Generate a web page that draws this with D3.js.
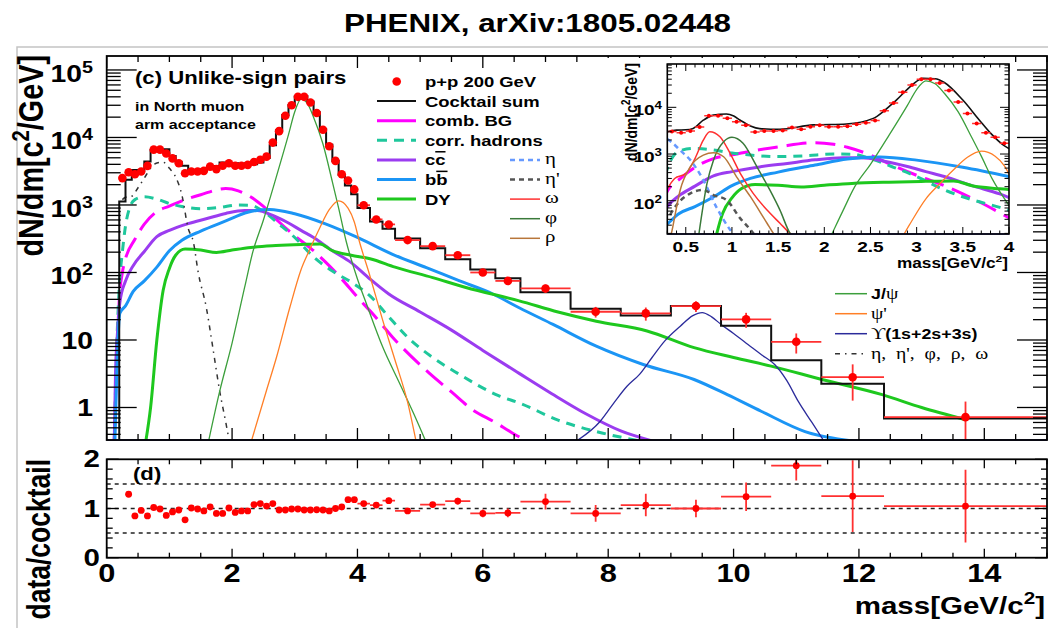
<!DOCTYPE html>
<html>
<head>
<meta charset="utf-8">
<script src="https://cdn.jsdelivr.net/npm/d3@7"></script>
<style>
  body { margin: 0; background: #fff; overflow: hidden; }
  text { font-family: "Liberation Sans", Arial, Helvetica, sans-serif; font-weight: bold; fill: #000; white-space: pre; }
  .greek { font-family: "Liberation Serif", "DejaVu Serif", serif; font-weight: normal; }
</style>
</head>
<body>
<svg id="chart" width="1048" height="628"></svg>
<script>
// ---------------- data ----------------
// p+p 200 GeV unlike-sign data points (mass in GeV/c2, dN/dm)
const dataMass = [0.25, 0.35, 0.45, 0.55, 0.65, 0.75, 0.85, 0.95, 1.05, 1.15,
  1.25, 1.35, 1.45, 1.55, 1.65, 1.75, 1.85, 1.95, 2.05, 2.15,
  2.25, 2.35, 2.45, 2.55, 2.65, 2.75, 2.85, 2.95, 3.05, 3.15,
  3.25, 3.35, 3.45, 3.55, 3.65, 3.75, 3.85, 3.95,
  4.1, 4.3, 4.5, 4.8, 5.2, 5.6, 6.0, 6.4, 7.0, 7.8, 8.6, 9.4, 10.2, 11.0, 11.9, 13.7];
const dataYield = [2500, 3050, 2850, 3130, 3800, 6600, 6600, 5800, 4900, 4150,
  2950, 3130, 3130, 3200, 3700, 3400, 3820, 4150, 3820, 3820,
  3930, 4330, 4680, 5200, 8400, 12400, 21000, 30000, 40000, 40000,
  33000, 23000, 13000, 7400, 4500, 2850, 2300, 1700,
  990, 610, 515, 302, 246, 180, 100, 75, 58, 26.2, 24.8, 31.8, 20.2, 9.4, 2.81, 0.72];
const dataHalfWidth = [0.05, 0.05, 0.05, 0.05, 0.05, 0.05, 0.05, 0.05, 0.05, 0.05,
  0.05, 0.05, 0.05, 0.05, 0.05, 0.05, 0.05, 0.05, 0.05, 0.05,
  0.05, 0.05, 0.05, 0.05, 0.05, 0.05, 0.05, 0.05, 0.05, 0.05,
  0.05, 0.05, 0.05, 0.05, 0.05, 0.05, 0.05, 0.05,
  0.1, 0.1, 0.1, 0.2, 0.2, 0.2, 0.2, 0.2, 0.4, 0.4, 0.4, 0.4, 0.4, 0.4, 0.5, 1.3];
const dataRelErr = [0.02, 0.02, 0.02, 0.02, 0.02, 0.02, 0.02, 0.02, 0.02, 0.02,
  0.02, 0.02, 0.02, 0.02, 0.02, 0.02, 0.02, 0.02, 0.02, 0.02,
  0.02, 0.02, 0.02, 0.02, 0.02, 0.02, 0.02, 0.02, 0.02, 0.02,
  0.02, 0.02, 0.02, 0.02, 0.02, 0.02, 0.02, 0.02,
  0.04, 0.04, 0.06, 0.05, 0.06, 0.07, 0.09, 0.1, 0.14, 0.18, 0.22, 0.18, 0.25, 0.33, 0.55, 0.7];

// cocktail sum histogram
const cocktailEdges = [0.2, 0.3, 0.4, 0.5, 0.6, 0.7, 0.8, 0.9, 1.0, 1.1, 1.2, 1.3, 1.4, 1.5, 1.6, 1.7, 1.8, 1.9,
  2.0, 2.1, 2.2, 2.3, 2.4, 2.5, 2.6, 2.7, 2.8, 2.9, 3.0, 3.1, 3.2, 3.3, 3.4, 3.5, 3.6, 3.7, 3.8, 3.9, 4.0,
  4.2, 4.4, 4.6, 5.0, 5.4, 5.8, 6.2, 6.6, 7.4, 8.2, 9.0, 9.8, 10.6, 11.4, 12.4, 15.0];
const cocktailSum = [1130, 2360, 3300, 3250, 4400, 6500, 6700, 6700, 5300, 4300,
  3800, 3100, 3150, 3370, 3590, 3780, 4240, 4110, 4150, 4020,
  4140, 4010, 4250, 4950, 7640, 12800, 21600, 30300, 40400, 41200,
  34000, 23600, 13400, 7800, 4500, 2770, 1950, 1440,
  900, 570, 445, 318, 228, 157, 111, 82, 51, 29, 23, 32, 16.3, 5.0, 2.25, 0.69];

// cocktail components [mass, dN/dm]
const combBG = [[0.12, 0.3], [0.16, 5], [0.2, 40], [0.25, 100], [0.3, 160], [0.45, 310], [0.6, 520], [0.8, 800],
  [1.0, 960], [1.2, 1150], [1.5, 1420], [1.9, 1750], [2.1, 1620], [2.25, 1400], [2.5, 950], [2.75, 560],
  [3.0, 350], [3.25, 230], [3.5, 140], [3.75, 80], [4.0, 43], [4.25, 24], [4.56, 11], [5.15, 3.2],
  [5.5, 1.7], [5.84, 0.92], [6.2, 0.6], [6.47, 0.42], [6.7, 0.32]];
const corrHadrons = [[0.12, 0.3], [0.16, 8], [0.2, 60], [0.25, 200], [0.3, 490], [0.36, 875], [0.45, 1200],
  [0.6, 1320], [0.8, 1220], [1.0, 1050], [1.2, 950], [1.5, 880], [1.8, 920], [2.1, 1000], [2.3, 990],
  [2.5, 800], [2.75, 520], [3.0, 330], [3.3, 170], [3.6, 105], [3.9, 72], [4.2, 45], [4.5, 22], [4.8, 11],
  [5.2, 5.5], [5.6, 3.2], [6.25, 1.5], [6.6, 1.15], [7.2, 0.65], [7.9, 0.42], [8.5, 0.32]];
const charm = [[0.12, 0.3], [0.14, 3], [0.17, 12], [0.21, 36], [0.3, 75], [0.42, 125], [0.6, 205], [0.8, 340],
  [1.0, 420], [1.3, 530], [1.6, 630], [1.9, 750], [2.2, 830], [2.4, 830], [2.65, 700], [2.9, 540],
  [3.1, 420], [3.3, 330], [3.6, 210], [3.9, 140], [4.2, 80], [4.5, 48], [5.0, 26], [5.5, 14], [6.0, 7],
  [6.58, 3.2], [7.1, 1.6], [7.65, 0.8], [8.2, 0.45], [8.7, 0.32]];
const bottom = [[0.13, 0.3], [0.16, 3], [0.18, 10], [0.21, 25], [0.3, 32], [0.42, 52], [0.6, 75], [0.8, 120],
  [1.0, 210], [1.2, 300], [1.5, 410], [1.9, 580], [2.25, 780], [2.6, 860], [3.0, 740], [3.5, 520],
  [4.0, 330], [4.56, 186], [5.1, 118], [5.63, 75], [6.16, 48], [6.58, 30], [7.12, 17], [7.81, 8.1],
  [8.57, 4.3], [9.37, 2.6], [9.9, 1.55], [10.44, 0.88], [11.14, 0.44], [11.9, 0.32]];
const drellYan = [[0.62, 0.3], [0.7, 1], [0.8, 10], [0.9, 54], [1.0, 115], [1.1, 180], [1.25, 222], [1.5, 215],
  [1.75, 198], [2.0, 215], [2.3, 235], [2.7, 250], [3.1, 260], [3.4, 265], [3.6, 210], [3.9, 180],
  [4.2, 160], [4.6, 120], [5.2, 84], [5.73, 60], [6.58, 38], [7.2, 26], [7.81, 19], [8.62, 13.6],
  [9.37, 7.7], [10.0, 5.5], [10.6, 4.1], [11.41, 2.6], [12.37, 1.55], [13.0, 1.0], [13.7, 0.66]];
const jpsi = [[1.62, 0.3], [1.8, 1.7], [2.0, 9], [2.2, 60], [2.33, 200], [2.5, 600], [2.7, 2500], [2.9, 11000],
  [3.0, 24000], [3.1, 37000], [3.2, 32000], [3.3, 20000], [3.45, 8000], [3.6, 2200], [3.7, 900],
  [3.82, 290], [4.0, 80], [4.14, 35], [4.4, 8], [4.67, 2.3], [4.9, 0.8], [5.1, 0.3]];
const psiPrime = [[2.3, 0.3], [2.55, 1.8], [2.71, 5.6], [2.92, 30], [3.1, 110], [3.24, 220], [3.4, 460],
  [3.55, 850], [3.7, 1150], [3.85, 900], [3.95, 560], [4.03, 290], [4.19, 95], [4.4, 20], [4.6, 5],
  [4.8, 1.2], [4.94, 0.3]];
const upsilon = [[7.45, 0.3], [7.87, 0.62], [8.1, 1.2], [8.3, 2.06], [8.5, 3.1], [8.7, 5.5], [8.9, 9.6],
  [9.15, 16], [9.35, 23], [9.5, 25.5], [9.65, 22], [9.8, 17], [10.0, 12.5], [10.23, 8.6], [10.45, 6],
  [10.66, 4.3], [10.85, 2.5], [11.03, 1.24], [11.25, 0.6], [11.46, 0.3]];
const lightMesons = [[0.25, 1200], [0.3, 1300], [0.4, 1350], [0.5, 1800], [0.6, 2500], [0.7, 3500],
  [0.8, 4200], [0.9, 4300], [1.0, 3500], [1.1, 2600], [1.2, 1400], [1.3, 450], [1.38, 290], [1.46, 100],
  [1.59, 30], [1.7, 7], [1.8, 1.8], [1.9, 0.6], [1.96, 0.3]];

// inset only: individual light mesons and smooth cocktail sum
const etaCurve = [[0.3, 2100], [0.36, 1700], [0.44, 1200], [0.55, 740], [0.69, 277], [0.83, 74], [0.98, 24], [1.03, 18]];
const etaPrimeCurve = [[0.33, 50], [0.4, 81], [0.55, 144], [0.69, 170], [0.8, 132], [0.94, 104], [1.09, 42], [1.2, 24], [1.25, 18]];
const omegaCurve = [[0.3, 180], [0.38, 300], [0.5, 380], [0.6, 800], [0.69, 1990], [0.76, 3000], [0.87, 2350],
  [0.98, 1035], [1.09, 385], [1.23, 144], [1.38, 63], [1.52, 33], [1.63, 20], [1.66, 18]];
const phiCurve = [[0.64, 18], [0.73, 235], [0.8, 740], [0.91, 1830], [1.0, 2280], [1.12, 1700], [1.27, 535],
  [1.41, 170], [1.52, 63], [1.63, 20], [1.66, 17]];
const rhoCurve = [[0.34, 18], [0.36, 28], [0.44, 170], [0.55, 535], [0.69, 950], [0.8, 1070], [0.91, 875],
  [1.05, 325], [1.2, 122], [1.38, 33], [1.45, 20], [1.47, 18]];
const insetSum = [[0.3, 3000], [0.4, 3250], [0.5, 3300], [0.58, 3540], [0.69, 5300], [0.8, 6800], [0.94, 7200],
  [1.02, 6500], [1.09, 5300], [1.2, 4000], [1.3, 3500], [1.52, 3380], [1.88, 4200], [2.24, 4400],
  [2.53, 5800], [2.65, 8500], [2.78, 14300], [2.95, 30000], [3.07, 42000], [3.2, 41000], [3.3, 34000],
  [3.5, 14300], [3.68, 5300], [3.8, 2800], [3.94, 1550], [4.0, 1300]];

// data / cocktail ratio
const ratioMass = [0.35, 0.45, 0.55, 0.65, 0.75, 0.85, 0.95, 1.05, 1.15, 1.25,
  1.35, 1.45, 1.55, 1.65, 1.75, 1.85, 1.95, 2.05, 2.15, 2.25,
  2.35, 2.45, 2.55, 2.65, 2.75, 2.85, 2.95, 3.05, 3.15, 3.25,
  3.35, 3.45, 3.55, 3.65, 3.75, 3.85, 3.95,
  4.1, 4.3, 4.5, 4.8, 5.2, 5.6, 6.0, 6.4, 7.0, 7.8, 8.6, 9.4, 10.2, 11.0, 11.9, 13.7];
const ratioValue = [1.29, 0.85, 0.96, 0.85, 1.02, 0.99, 0.86, 0.93, 0.97, 0.77,
  1.01, 0.99, 0.95, 1.03, 0.90, 0.90, 1.01, 0.92, 0.95, 0.95,
  1.08, 1.10, 1.05, 1.10, 0.97, 0.97, 0.99, 0.99, 0.97, 0.97,
  0.975, 0.97, 0.95, 1.00, 1.03, 1.18, 1.18,
  1.10, 1.07, 1.16, 0.95, 1.08, 1.15, 0.90, 0.91, 1.14, 0.90, 1.07, 1.00, 1.24, 1.87, 1.25, 1.05];
const ratioErr = [0.02, 0.02, 0.02, 0.02, 0.02, 0.02, 0.02, 0.02, 0.02, 0.02,
  0.02, 0.02, 0.02, 0.02, 0.02, 0.02, 0.02, 0.02, 0.02, 0.02,
  0.02, 0.02, 0.02, 0.02, 0.02, 0.02, 0.02, 0.02, 0.02, 0.02,
  0.02, 0.02, 0.02, 0.02, 0.02, 0.03, 0.03,
  0.04, 0.04, 0.06, 0.04, 0.05, 0.07, 0.08, 0.09, 0.16, 0.17, 0.23, 0.18, 0.29, 0.30, 0.73, 0.74];
const ratioHalfWidth = [0.05, 0.05, 0.05, 0.05, 0.05, 0.05, 0.05, 0.05, 0.05, 0.05,
  0.05, 0.05, 0.05, 0.05, 0.05, 0.05, 0.05, 0.05, 0.05, 0.05,
  0.05, 0.05, 0.05, 0.05, 0.05, 0.05, 0.05, 0.05, 0.05, 0.05,
  0.05, 0.05, 0.05, 0.05, 0.05, 0.05, 0.05,
  0.1, 0.1, 0.1, 0.2, 0.2, 0.2, 0.2, 0.2, 0.4, 0.4, 0.4, 0.4, 0.4, 0.4, 0.5, 1.3];
const ratioRefLines = [0.5, 1, 1.5];

// ---------------- drawing ----------------
const SX = 1.23; // the figure text is horizontally stretched
const svg = d3.select("#chart");
const defs = svg.append("defs");

function clip(id, x0, y0, x1, y1) {
  defs.append("clipPath").attr("id", id).append("rect")
    .attr("x", x0).attr("y", y0).attr("width", x1 - x0).attr("height", y1 - y0);
  return "url(#" + id + ")";
}

// text with optional superscripts / greek parts
function rich(g, x, y, parts, o = {}) {
  const size = o.size || 15;
  const t = g.append("text")
    .attr("transform", "translate(" + x + "," + y + ") scale(" + SX + ",1)" + (o.rotate ? " rotate(-90)" : ""))
    .attr("text-anchor", o.anchor || "start")
    .style("font-size", size + "px");
  if (o.serif) t.attr("class", "greek");
  let shift = 0;
  parts.forEach((p) => {
    if (typeof p === "string") p = { t: p };
    const want = p.sup ? -0.4 * size : 0;
    const s = t.append("tspan").text(p.t).attr("dy", want - shift);
    shift = want;
    if (p.sup) s.style("font-size", 0.7 * size + "px");
    if (p.serif) s.attr("class", "greek").style("font-size", (p.size || size * 1.1) + "px");
    if (p.over) s.style("text-decoration", "overline");
  });
  return t;
}

function ticks(g, vals, pos, fixed, len, side, width) {
  g.append("g").selectAll("line").data(vals).join("line")
    .attr("x1", (d) => (side === "b" || side === "t" ? pos(d) : fixed))
    .attr("x2", (d) => (side === "b" || side === "t" ? pos(d) : side === "l" ? fixed + len(d) : fixed - len(d)))
    .attr("y1", (d) => (side === "b" || side === "t" ? fixed : pos(d)))
    .attr("y2", (d) => (side === "b" ? fixed - len(d) : side === "t" ? fixed + len(d) : pos(d)))
    .attr("stroke", "#000")
    .attr("stroke-width", width || 1.3);
}

const isDecade = (v) => Math.abs(Math.log10(v) - Math.round(Math.log10(v))) < 1e-6;

// title and outer canvas frame
rich(svg, 537.5, 31.7, ["PHENIX, arXiv:1805.02448"], { size: 25.5, anchor: "middle" });
svg.append("rect").attr("x", 17).attr("y", 47).attr("width", 1100).attr("height", 700)
  .attr("fill", "none").attr("stroke", "#c4c4c4").attr("stroke-width", 1.5);

// ---------- main panel ----------
const x = d3.scaleLinear().domain([0, 15]).range([106.7, 1047]);
const y = d3.scaleLog().domain([0.33, 1.61e5]).range([440, 56]);
const main = svg.append("g");
const plotArea = main.append("g").attr("clip-path", clip("cMain", 106.7, 56, 1047, 440));
const lineMain = d3.line().x((d) => x(d[0])).y((d) => y(d[1])).curve(d3.curveMonotoneX);

const mainCurves = [
  { pts: combBG, color: "#ff00ff", width: 3, dash: "22,9" },
  { pts: corrHadrons, color: "#1fc79c", width: 3, dash: "9,7" },
  { pts: charm, color: "#9b3cf0", width: 3 },
  { pts: bottom, color: "#1b95f5", width: 3 },
  { pts: drellYan, color: "#1ec81e", width: 3 },
  { pts: lightMesons, color: "#333", width: 1.5, dash: "5,5,1.5,5" },
  { pts: jpsi, color: "#3c9f3c", width: 1.3 },
  { pts: psiPrime, color: "#ff7f27", width: 1.3 },
  { pts: upsilon, color: "#2b2b9b", width: 1.3 }
];
mainCurves.forEach((c) => {
  plotArea.append("path").attr("d", lineMain(c.pts)).attr("fill", "none")
    .attr("stroke", c.color).attr("stroke-width", c.width).attr("stroke-dasharray", c.dash || null);
});

// cocktail sum as histogram
let hist = "M" + x(cocktailEdges[0]) + "," + y.range()[0];
cocktailSum.forEach((v, i) => {
  hist += "V" + y(v) + "H" + x(cocktailEdges[i + 1]);
});
plotArea.append("path").attr("d", hist).attr("fill", "none").attr("stroke", "#111").attr("stroke-width", 2);

// data with errors
const dataPts = dataMass.map((m, i) => ({ m, v: dataYield[i], hw: dataHalfWidth[i], e: dataRelErr[i] }));
plotArea.append("g").selectAll("line").data(dataPts).join("line")
  .attr("x1", (d) => x(d.m - d.hw)).attr("x2", (d) => x(d.m + d.hw))
  .attr("y1", (d) => y(d.v)).attr("y2", (d) => y(d.v))
  .attr("stroke", "#ff3030").attr("stroke-width", 1.8);
plotArea.append("g").selectAll("line").data(dataPts).join("line")
  .attr("x1", (d) => x(d.m)).attr("x2", (d) => x(d.m))
  .attr("y1", (d) => y(Math.max(d.v * (1 - d.e), 0.2))).attr("y2", (d) => y(d.v * (1 + d.e)))
  .attr("stroke", "#ff3030").attr("stroke-width", 1.8);
plotArea.append("g").selectAll("circle").data(dataPts).join("circle")
  .attr("cx", (d) => x(d.m)).attr("cy", (d) => y(d.v)).attr("r", 4.3).attr("fill", "#ff0000");

// bottom baseline (curves sitting at the floor)
main.append("line").attr("x1", x(0)).attr("x2", x(15)).attr("y1", y.range()[0]).attr("y2", y.range()[0])
  .attr("stroke", "#2b2b9b").attr("stroke-width", 1.5);

// frame and ticks
main.append("rect").attr("x", 106.7).attr("y", 56).attr("width", 1047 - 106.7).attr("height", 384)
  .attr("fill", "none").attr("stroke", "#000").attr("stroke-width", 1.8);
const yTickVals = y.ticks();
ticks(main, yTickVals, y, 106.7, (d) => (isDecade(d) ? 30 : 14), "l");
ticks(main, yTickVals, y, 1047, (d) => (isDecade(d) ? 30 : 14), "r");
const xTickVals = x.ticks(30);
ticks(main, xTickVals, x, 440, (d) => (d % 2 === 0 ? 12 : 6), "b");
ticks(main, xTickVals, x, 56, (d) => (d % 2 === 0 ? 12 : 6), "t");

yTickVals.filter(isDecade).forEach((v) => {
  const e = Math.round(Math.log10(v));
  if (e < 2) rich(main, 93, y(v) + 9, [String(v)], { size: 23, anchor: "end" });
  else rich(main, 93, y(v) + 12, ["10", { t: String(e), sup: true }], { size: 23, anchor: "end" });
});
rich(main, 43, 55, ["dN/dm[c", { t: "2", sup: true }, "/GeV]"], { size: 28.8, anchor: "end", rotate: true });

// text and legend
rich(main, 135, 84, ["(c) Unlike-sign pairs"], { size: 18 });
rich(main, 135, 111, ["in North muon"], { size: 13 });
rich(main, 135, 128.5, ["arm acceptance"], { size: 13 });

const legRow = (i) => 81.5 + i * 19.6;
main.append("circle").attr("cx", 396.7).attr("cy", legRow(0)).attr("r", 4.3).attr("fill", "#ff0000");
const legendLeft = [
  { label: ["p+p 200 GeV"] },
  { label: ["Cocktail sum"], color: "#111", width: 2 },
  { label: ["comb. BG"], color: "#ff00ff", width: 3 },
  { label: ["corr. hadrons"], color: "#1fc79c", width: 3, dash: "10,7" },
  { label: ["c", { t: "c", over: true }], color: "#9b3cf0", width: 3 },
  { label: ["b", { t: "b", over: true }], color: "#1b95f5", width: 3 },
  { label: ["DY"], color: "#1ec81e", width: 3 }
];
legendLeft.forEach((d, i) => {
  if (d.color) {
    main.append("line").attr("x1", 377).attr("x2", 416).attr("y1", legRow(i)).attr("y2", legRow(i))
      .attr("stroke", d.color).attr("stroke-width", d.width).attr("stroke-dasharray", d.dash || null);
  }
  rich(main, 425, legRow(i) + 5.4, d.label, { size: 15 });
});
const legendGreek = [
  { label: "η", color: "#6699ff", width: 2.5, dash: "5,4" },
  { label: "η'", color: "#555", width: 2.5, dash: "5,4" },
  { label: "ω", color: "#ff3030", width: 1.5 },
  { label: "φ", color: "#3a7a3a", width: 1.5 },
  { label: "ρ", color: "#b8763a", width: 1.5 }
];
legendGreek.forEach((d, k) => {
  const ry = legRow(4 + k);
  main.append("line").attr("x1", 510).attr("x2", 540).attr("y1", ry).attr("y2", ry)
    .attr("stroke", d.color).attr("stroke-width", d.width).attr("stroke-dasharray", d.dash || null);
  rich(main, 545, ry + 4, [d.label], { size: 17, serif: true });
});

const legendRight = [
  { label: ["J/", { t: "ψ", serif: true, size: 16 }], color: "#3c9f3c", width: 1.5 },
  { label: [{ t: "ψ'", serif: true, size: 16 }], color: "#ff7f27", width: 1.5 },
  { label: [{ t: "ϒ", serif: true, size: 16 }, "(1s+2s+3s)"], color: "#2b2b9b", width: 1.5 },
  { label: [{ t: "η,  η',  φ,  ρ,  ω", serif: true, size: 16 }], color: "#333", width: 1.5, dash: "5,5,1.5,5" }
];
legendRight.forEach((d, k) => {
  const ry = 293.7 + k * 20;
  main.append("line").attr("x1", 835).attr("x2", 867).attr("y1", ry).attr("y2", ry)
    .attr("stroke", d.color).attr("stroke-width", d.width).attr("stroke-dasharray", d.dash || null);
  rich(main, 871, ry + 5.2, d.label, { size: 14.5 });
});

// ---------- ratio panel ----------
const yr = d3.scaleLinear().domain([0, 2]).range([557.7, 459.3]);
const ratio = svg.append("g");
const ratioArea = ratio.append("g").attr("clip-path", clip("cRatio", 106.7, 459.3, 1047, 557.7));
ratioArea.selectAll("line.ref").data(ratioRefLines).join("line")
  .attr("x1", x(0)).attr("x2", x(15)).attr("y1", (d) => yr(d)).attr("y2", (d) => yr(d))
  .attr("stroke", "#222").attr("stroke-width", 1.5).attr("stroke-dasharray", "4,4");
const ratioPts = ratioMass.map((m, i) => ({ m, v: ratioValue[i], e: ratioErr[i], hw: ratioHalfWidth[i] }));
ratioArea.append("g").selectAll("line").data(ratioPts).join("line")
  .attr("x1", (d) => x(d.m - d.hw)).attr("x2", (d) => x(d.m + d.hw))
  .attr("y1", (d) => yr(d.v)).attr("y2", (d) => yr(d.v))
  .attr("stroke", "#ff3030").attr("stroke-width", 1.8);
ratioArea.append("g").selectAll("line").data(ratioPts).join("line")
  .attr("x1", (d) => x(d.m)).attr("x2", (d) => x(d.m))
  .attr("y1", (d) => yr(d.v - d.e)).attr("y2", (d) => yr(d.v + d.e))
  .attr("stroke", "#ff3030").attr("stroke-width", 1.8);
ratioArea.append("g").selectAll("circle").data(ratioPts).join("circle")
  .attr("cx", (d) => x(d.m)).attr("cy", (d) => yr(d.v)).attr("r", 3.4).attr("fill", "#ff0000");

ratio.append("rect").attr("x", 106.7).attr("y", 459.3).attr("width", 1047 - 106.7).attr("height", 557.7 - 459.3)
  .attr("fill", "none").attr("stroke", "#000").attr("stroke-width", 1.8);
const yrTicks = yr.ticks(10);
ticks(ratio, yrTicks, yr, 106.7, (d) => (Number.isInteger(d) ? 12 : 6), "l");
ticks(ratio, yrTicks, yr, 1047, (d) => (Number.isInteger(d) ? 12 : 6), "r");
ticks(ratio, xTickVals, x, 557.7, (d) => (d % 2 === 0 ? 9 : 5), "b");
ticks(ratio, xTickVals, x, 459.3, (d) => (d % 2 === 0 ? 9 : 5), "t");
yr.ticks(2).forEach((v) => rich(ratio, 100, yr(v) + 8, [String(v)], { size: 24, anchor: "end" }));
x.ticks(8).forEach((v) => rich(ratio, x(v), 582, [String(v)], { size: 25, anchor: "middle" }));
rich(ratio, 133, 480, ["(d)"], { size: 18 });
rich(ratio, 50, 459, ["data/cocktail"], { size: 26.5, anchor: "end", rotate: true });
rich(ratio, 1045, 614, ["mass[GeV/c", { t: "2", sup: true }, "]"], { size: 24, anchor: "end" });

// ---------- inset ----------
const xi = d3.scaleLinear().domain([0.3, 4]).range([667.3, 1009]);
const yi = d3.scaleLog().domain([19.4, 84600]).range([234, 64]);
const inset = svg.append("g");
inset.append("rect").attr("x", 600).attr("y", 58).attr("width", 414).attr("height", 214).attr("fill", "#fff");
const insetArea = inset.append("g").attr("clip-path", clip("cInset", 667.3, 64, 1009, 234));
const lineInset = d3.line().x((d) => xi(d[0])).y((d) => yi(d[1])).curve(d3.curveMonotoneX);
const insetCurves = [
  { pts: combBG, color: "#ff00ff", width: 3, dash: "20,9" },
  { pts: corrHadrons, color: "#1fc79c", width: 3, dash: "9,7" },
  { pts: charm, color: "#9b3cf0", width: 3 },
  { pts: bottom, color: "#1b95f5", width: 3 },
  { pts: drellYan, color: "#1ec81e", width: 3 },
  { pts: etaCurve, color: "#6699ff", width: 2.5, dash: "5,4" },
  { pts: etaPrimeCurve, color: "#555", width: 2.5, dash: "5,4" },
  { pts: omegaCurve, color: "#ff3030", width: 1.5 },
  { pts: phiCurve, color: "#3a7a3a", width: 1.5 },
  { pts: rhoCurve, color: "#b8763a", width: 1.5 },
  { pts: jpsi, color: "#3c9f3c", width: 1.3 },
  { pts: psiPrime, color: "#ff7f27", width: 1.3 },
  { pts: insetSum, color: "#111", width: 1.6 }
];
insetCurves.forEach((c) => {
  insetArea.append("path").attr("d", lineInset(c.pts)).attr("fill", "none")
    .attr("stroke", c.color).attr("stroke-width", c.width).attr("stroke-dasharray", c.dash || null);
});
const insetPts = dataPts.filter((d) => d.m > 0.3 && d.m < 4);
insetArea.append("g").selectAll("line").data(insetPts).join("line")
  .attr("x1", (d) => xi(d.m - d.hw)).attr("x2", (d) => xi(d.m + d.hw))
  .attr("y1", (d) => yi(d.v)).attr("y2", (d) => yi(d.v))
  .attr("stroke", "#ff3030").attr("stroke-width", 1.5);
insetArea.append("g").selectAll("circle").data(insetPts).join("circle")
  .attr("cx", (d) => xi(d.m)).attr("cy", (d) => yi(d.v)).attr("r", 2).attr("fill", "#ff0000");
inset.append("line").attr("x1", 667.3).attr("x2", 1009).attr("y1", 234).attr("y2", 234)
  .attr("stroke", "#2b2b9b").attr("stroke-width", 1.5);
inset.append("rect").attr("x", 667.3).attr("y", 64).attr("width", 1009 - 667.3).attr("height", 170)
  .attr("fill", "none").attr("stroke", "#000").attr("stroke-width", 1.6);
const yiTicks = yi.ticks();
ticks(inset, yiTicks, yi, 667.3, (d) => (isDecade(d) ? 9 : 4.5), "l", 1);
ticks(inset, yiTicks, yi, 1009, (d) => (isDecade(d) ? 9 : 4.5), "r", 1);
const xiTicks = xi.ticks(40);
ticks(inset, xiTicks, xi, 234, (d) => (Math.abs(d * 2 - Math.round(d * 2)) < 1e-6 ? 7 : 3.5), "b", 1);
ticks(inset, xiTicks, xi, 64, (d) => (Math.abs(d * 2 - Math.round(d * 2)) < 1e-6 ? 7 : 3.5), "t", 1);
yiTicks.filter(isDecade).forEach((v) => {
  rich(inset, 662, yi(v) + 8, ["10", { t: String(Math.round(Math.log10(v))), sup: true }], { size: 15.5, anchor: "end" });
});
xi.ticks(10).forEach((v) => rich(inset, xi(v), 251.7, [String(v)], { size: 15.5, anchor: "middle" }));
rich(inset, 1008, 268, ["mass[GeV/c", { t: "2", sup: true }, "]"], { size: 14, anchor: "end" });
rich(inset, 637, 63, ["dN/dm[c", { t: "2", sup: true }, "/GeV]"], { size: 14, anchor: "end", rotate: true });
</script>
</body>
</html>
